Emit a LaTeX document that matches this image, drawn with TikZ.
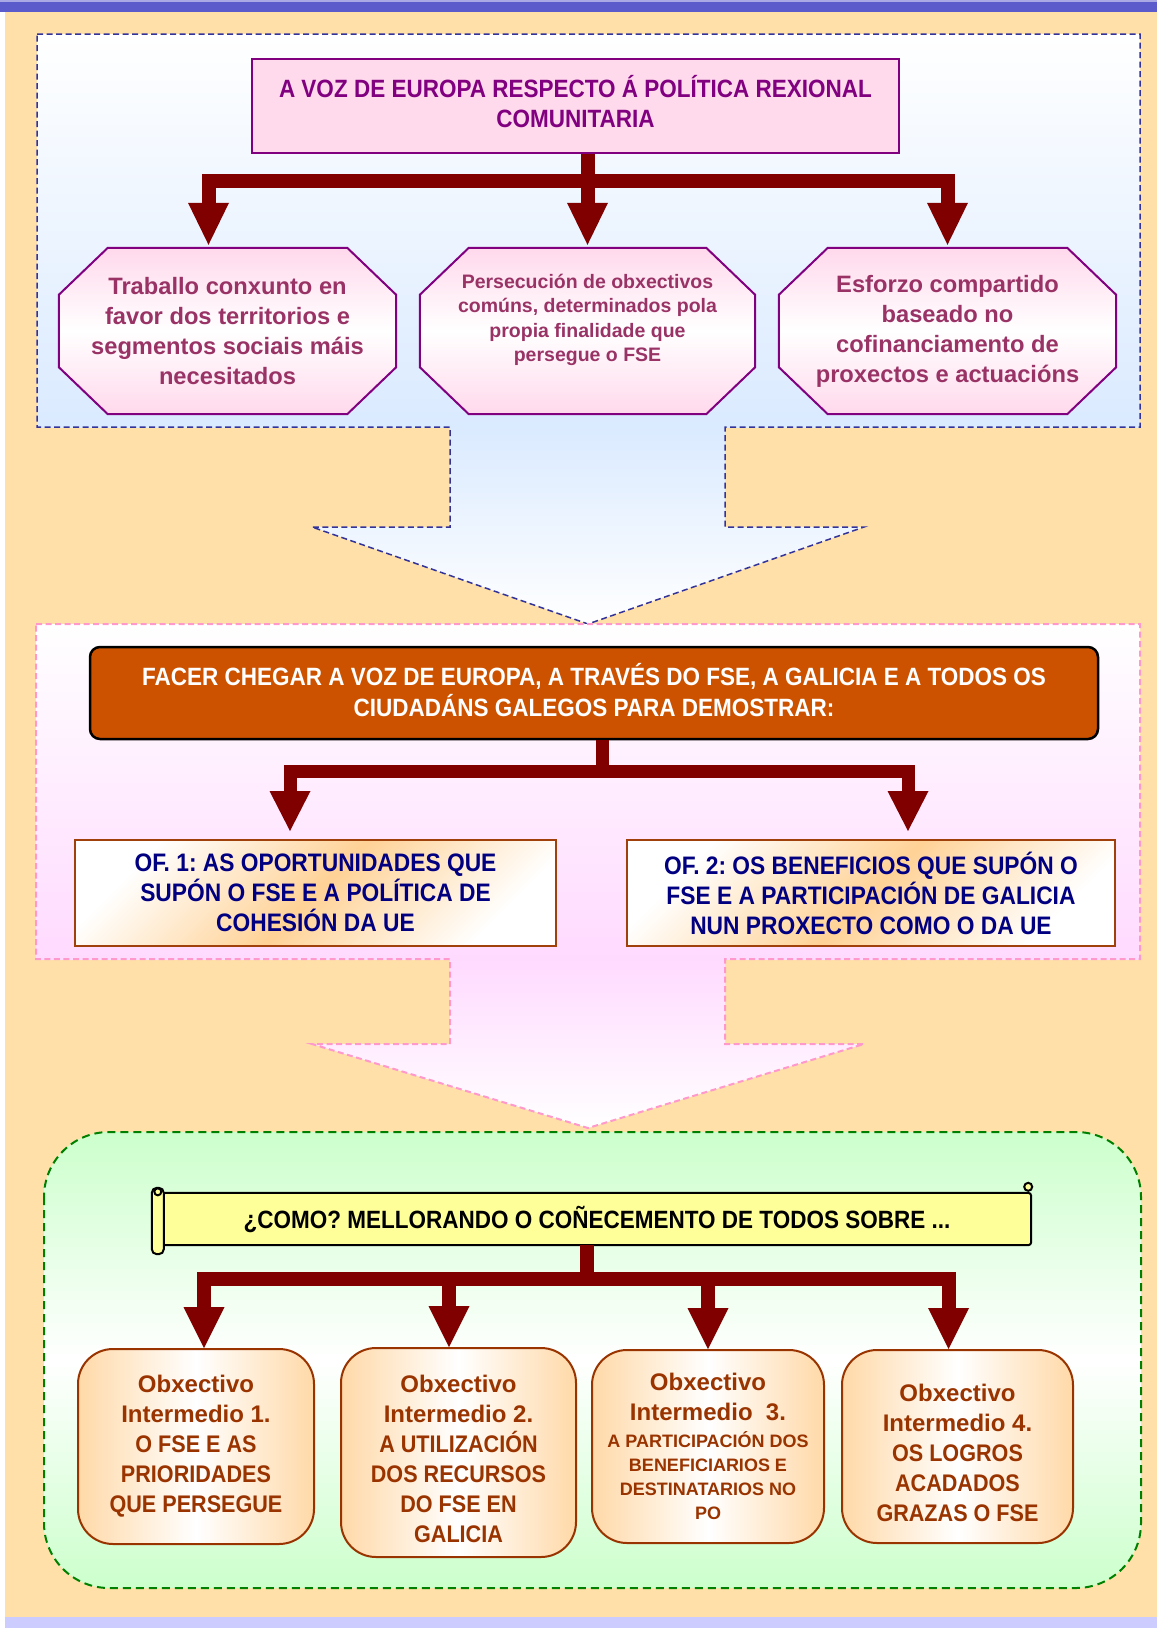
\documentclass[tikz,border=0pt]{standalone}
\usepackage{fontspec}
\setmainfont{Liberation Sans}
\newfontfamily\condfont{Liberation Sans}[FakeStretch=0.9]
\usetikzlibrary{arrows.meta,calc}
\pgfdeclarelayer{bg}
\pgfdeclarelayer{mid}
\pgfsetlayers{bg,mid,main}
\frenchspacing
\definecolor{bgorange}{HTML}{FFE0A8}
\definecolor{topblue}{HTML}{5B5BCB}
\definecolor{toplight}{HTML}{A9A9E6}
\definecolor{botlav}{HTML}{CCCCFF}
\definecolor{bluep}{HTML}{DAEAFF}
\definecolor{bluedash}{HTML}{333399}
\definecolor{pinkp}{HTML}{FFDAFF}
\definecolor{pinkdash}{HTML}{FF99CC}
\definecolor{greenp}{HTML}{CCFFCC}
\definecolor{greendash}{HTML}{008000}
\definecolor{titlepink}{HTML}{FFD9EC}
\definecolor{purp}{HTML}{800080}
\definecolor{octtext}{HTML}{993366}
\definecolor{arrowred}{HTML}{800000}
\definecolor{orangeB}{HTML}{CC5200}
\definecolor{navyT}{HTML}{000080}
\definecolor{ofO}{HTML}{FFD296}
\definecolor{ofborder}{HTML}{A0400A}
\definecolor{boxO}{HTML}{FFD9A8}
\definecolor{brownB}{HTML}{993300}
\definecolor{scrollY}{HTML}{FFFF99}
\newcommand\capsline[1]{{\condfont #1}}
\newcommand\octagonbox[1]{%
  \path[octshape] ($(#1.north west)+(49,0)$) -- ($(#1.north east)+(-49,0)$) --
    ($(#1.north east)+(0,47)$) -- ($(#1.south east)+(0,-47)$) --
    ($(#1.south east)+(-49,0)$) -- ($(#1.south west)+(49,0)$) --
    ($(#1.south west)+(0,-47)$) -- ($(#1.north west)+(0,47)$) -- cycle;}
\tikzset{
  titlebox/.style={draw=purp, line width=1.5pt, fill=titlepink, minimum width=647pt,
    minimum height=94pt, inner sep=0pt},
  titletext/.style={inner sep=0pt, align=center, text=purp,
    font=\condfont\bfseries\fontsize{25}{30}\selectfont},
  octnode/.style={minimum height=166pt, inner sep=0pt, align=center, text=octtext,
    font=\bfseries\fontsize{23.7}{30}\selectfont},
  octsmall/.style={inner sep=0pt, align=center, text=octtext,
    font=\bfseries\fontsize{19.5}{24.5}\selectfont},
  octshape/.style={draw=purp, line width=2pt, top color=titlepink,
    bottom color=titlepink, middle color=white},
  orangebox/.style={draw=black, line width=2.5pt, fill=orangeB, rounded corners=10pt,
    minimum width=1008pt, minimum height=92pt, inner sep=0pt},
  orangetext/.style={inner sep=0pt, align=center, text=white,
    font=\condfont\bfseries\fontsize{25}{31}\selectfont},
  ofbox/.style={draw=ofborder, line width=2pt, top color=white, bottom color=white,
    middle color=ofO, shading angle=45, minimum height=106pt, inner sep=0pt,
    align=center, text=navyT, font=\condfont\bfseries\fontsize{25.3}{30}\selectfont},
  scrollnode/.style={minimum width=868pt, minimum height=52pt, inner sep=0pt,
    font=\condfont\bfseries\fontsize{25}{30}\selectfont},
  scrollshape/.style={draw=black, line width=2pt, fill=scrollY},
  objbox/.style={draw=brownB, line width=2pt, rounded corners=35pt, left color=boxO,
    right color=boxO, middle color=white, inner sep=0pt, align=center, text=brownB,
    font=\bfseries\fontsize{24}{30}\selectfont},
  objtext/.style={inner sep=0pt, align=center, text=brownB,
    font=\bfseries\fontsize{24}{30}\selectfont},
  connA/.style={draw=arrowred, line width=14pt, miter limit=10,
    -{Triangle[length=42pt,width=41pt,line width=0pt]}, shorten >=3pt},
  connB/.style={draw=arrowred, line width=13pt, miter limit=10,
    -{Triangle[length=40pt,width=41pt,line width=0pt]}, shorten >=8pt},
  connC/.style={draw=arrowred, line width=14pt, miter limit=10,
    -{Triangle[length=41pt,width=41pt,line width=0pt]}},
  bluedashed/.style={draw=bluedash, line width=1.5pt, dash pattern=on 6pt off 3.5pt},
  pinkdashed/.style={draw=pinkdash, line width=2pt, dash pattern=on 6pt off 3.5pt},
  greendashed/.style={draw=greendash, line width=2pt, dash pattern=on 8pt off 5pt}
}
\begin{document}
\begin{tikzpicture}[x=1pt,y=-1pt]
\useasboundingbox (0,0) rectangle (1157,1628);
\begin{pgfonlayer}{bg}
  \fill[white] (0,0) rectangle (1157,1628);
  \fill[bgorange] (5,0) rectangle (1157,1628);
  \fill[topblue] (0,0) rectangle (1157,12);
  \fill[toplight] (0,0) rectangle (1157,2);
  \fill[botlav] (5,1617) rectangle (1157,1628);
  % blue panel
  \shade[top color=white, bottom color=bluep] (37,34) rectangle (1140,427);
  \shade[top color=bluep, bottom color=white] (450,426) -- (725,426) -- (725,527) --
    (864,527) -- (588,624) -- (312,527) -- (450,527) -- cycle;
  \draw[bluedashed] (37,34) -- (1140,34) -- (1140,427) -- (725,427) -- (725,527) --
    (864,527) -- (588,624) -- (312,527) -- (450,527) -- (450,427) -- (37,427) -- cycle;
  % pink panel
  \shade[top color=white, bottom color=pinkp] (36,624) rectangle (1140,959);
  \shade[top color=pinkp, bottom color=white] (450,958) -- (725,958) -- (725,1044) --
    (864,1044) -- (588,1128) -- (312,1044) -- (450,1044) -- cycle;
  \draw[pinkdashed] (36,624) -- (1140,624) -- (1140,959) -- (725,959) -- (725,1044) --
    (864,1044) -- (588,1128) -- (312,1044) -- (450,1044) -- (450,959) -- (36,959) -- cycle;
  % green panel
  \shade[top color=greenp, bottom color=greenp, middle color=white, rounded corners=65pt]
    (44,1132) rectangle (1141,1588);
  \draw[greendashed, rounded corners=65pt] (44,1132) rectangle (1141,1588);
\end{pgfonlayer}

% top section
\node[titlebox] (title) at (575.5,106) {};
\node[titletext] (titlet) at (575.5,102)
  {A VOZ DE EUROPA RESPECTO Á POLÍTICA REXIONAL\\COMUNITARIA};
\node[octnode, minimum width=337pt] (oct1) at (227.5,331)
  {Traballo conxunto en\\favor dos territorios e\\segmentos sociais máis\\necesitados};
\node[octnode, minimum width=335pt] (oct2) at (587.5,331) {};
\node[octsmall] (oct2t) at (587.5,320)
  {Persecución de obxectivos\\comúns, determinados pola\\propia finalidade que\\persegue o FSE};
\node[octnode, minimum width=337pt] (oct3) at (947.5,331)
  {Esforzo compartido\\baseado no\\cofinanciamento de\\proxectos e actuacións};

% middle section
\node[orangebox] (orange) at (594,693) {};
\node[orangetext] (oranget) at (594,690)
  {FACER CHEGAR A VOZ DE EUROPA, A TRAVÉS DO FSE, A GALICIA E A TODOS OS\\CIUDADÁNS GALEGOS PARA DEMOSTRAR:};
\node[ofbox, minimum width=481pt] (of1) at (315.5,893)
  {OF. 1: AS OPORTUNIDADES QUE\\SUPÓN O FSE E A POLÍTICA DE\\COHESIÓN DA UE};
\node[ofbox, minimum width=488pt] (of2) at (871,893)
  {OF. 2: OS BENEFICIOS QUE SUPÓN O\\FSE E A PARTICIPACIÓN DE GALICIA\\NUN PROXECTO COMO O DA UE};

% bottom section
\node[scrollnode] (scroll) at (597,1219)
  {¿COMO? MELLORANDO O COÑECEMENTO DE TODOS SOBRE ...};
\node[objbox, minimum width=236pt, minimum height=195pt] (b1) at (196,1446.5)
  {Obxectivo\\Intermedio 1.\\\capsline{O FSE E AS}\\\capsline{PRIORIDADES}\\\capsline{QUE PERSEGUE}};
\node[objbox, minimum width=235pt, minimum height=209pt] (b2) at (458.5,1452.5) {};
\node[objtext] (b2t) at (458.5,1459)
  {Obxectivo\\Intermedio 2.\\\capsline{A UTILIZACIÓN}\\\capsline{DOS RECURSOS}\\\capsline{DO FSE EN}\\\capsline{GALICIA}};
\node[objbox, minimum width=232pt, minimum height=193pt, font=\bfseries\fontsize{18}{24}\selectfont] (b3) at (708,1446.5)
  {{\fontsize{24}{30}\selectfont Obxectivo}\\[6pt]{\fontsize{24}{30}\selectfont Intermedio~ 3.}\\[3pt]A PARTICIPACIÓN DOS\\BENEFICIARIOS E\\DESTINATARIOS NO\\PO};
\node[objbox, minimum width=231pt, minimum height=193pt] (b4) at (957.5,1446.5) {};
\node[objtext] (b4t) at (957.5,1453)
  {Obxectivo\\Intermedio 4.\\\capsline{OS LOGROS}\\\capsline{ACADADOS}\\\capsline{GRAZAS O FSE}};

% shapes drawn under the texts
\begin{pgfonlayer}{mid}
  \octagonbox{oct1}
  \octagonbox{oct2}
  \octagonbox{oct3}
  \draw[scrollshape, rounded corners=3pt] (scroll.north west) rectangle (scroll.south east);
  \draw[scrollshape, rounded corners=5pt] ($(scroll.north west)+(-11,-5)$) rectangle ($(scroll.south west)+(1,9)$);
  \draw[scrollshape] ($(scroll.north west)+(-5,-1)$) circle (3.5pt);
  \draw[scrollshape] ($(scroll.north east)+(-3,-6)$) circle (4pt);
\end{pgfonlayer}

% connectors
\draw[connA] (title.south -| oct2.north) -- ++(0,27) -| ($(oct1.north)+(-19,0)$);
\draw[connA] (title.south -| oct2.north) -- (oct2.north);
\draw[connA] (title.south -| oct2.north) -- ++(0,27) -| (oct3.north);

\draw[connB] ($(orange.south)+(8,0)$) -- ++(0,31) -| ($(of1.north)+(-25.5,0)$);
\draw[connB] ($(orange.south)+(8,0)$) -- ++(0,31) -| ($(of2.north)+(37,0)$);

\draw[connC] ($(scroll.south)+(-10,0)$) -- ++(0,34) -| ($(b1.north)+(8,0)$);
\draw[connC] ($(scroll.south)+(-10,0)$) -- ++(0,34) -| ($(b2.north)+(-9.5,0)$);
\draw[connC] ($(scroll.south)+(-10,0)$) -- ++(0,34) -| (b3.north);
\draw[connC] ($(scroll.south)+(-10,0)$) -- ++(0,34) -| ($(b4.north)+(-9,0)$);
\end{tikzpicture}
\end{document}
